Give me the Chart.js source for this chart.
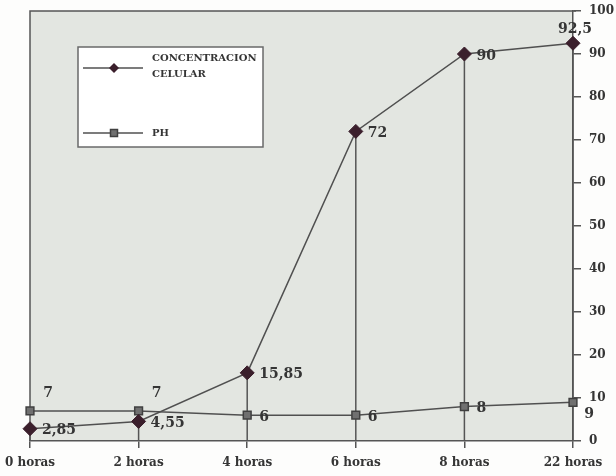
<!DOCTYPE html>
<html>
<head>
<meta charset="utf-8">
<script src="https://cdn.jsdelivr.net/npm/chart.js@4/dist/chart.umd.min.js"></script>
<style>
  html, body { margin: 0; padding: 0; background: #fdfdfc; }
  canvas { display: block; }
</style>
</head>
<body>
<canvas id="c" width="616" height="476"></canvas>
<script>
// Horas de cultivo
const categories = ['0 horas', '2 horas', '4 horas', '6 horas', '8 horas', '22 horas'];
// Concentración celular
const concentracion = [2.85, 4.55, 15.85, 72, 90, 92.5];
// pH del medio
const ph = [7, 7, 6, 6, 8, 9];
// Marcas del eje derecho
const yTickValues = [0, 10, 20, 30, 40, 50, 60, 70, 80, 90, 100];

// Where each value label sits relative to its point
const concLabelPlace = ['right', 'right', 'right', 'right', 'right', 'above'];
const phLabelPlace = ['upRight', 'upRight', 'right', 'right', 'right', 'downRight'];

const INK = '#353535';
const AXIS = '#555555';
const SERIF = "'DejaVu Serif', 'Liberation Serif', serif";

const fmt = v => String(v).replace('.', ',');

// Shaded plot area with its top and left border
const plotFrame = {
  id: 'plotFrame',
  beforeDraw(chart) {
    const { ctx, chartArea: a } = chart;
    ctx.save();
    ctx.fillStyle = '#e3e6e1';
    ctx.fillRect(a.left, a.top, a.right - a.left, a.bottom - a.top);
    ctx.strokeStyle = AXIS;
    ctx.lineWidth = 1.5;
    ctx.beginPath();
    ctx.moveTo(a.left, a.bottom);
    ctx.lineTo(a.left, a.top);
    ctx.lineTo(a.right + 3, a.top);
    ctx.stroke();
    ctx.restore();
  }
};

// Vertical drop lines from each concentration point to the axis
const dropLines = {
  id: 'dropLines',
  beforeDatasetsDraw(chart) {
    const { ctx, chartArea: a } = chart;
    const meta = chart.getDatasetMeta(0);
    ctx.save();
    ctx.strokeStyle = AXIS;
    ctx.lineWidth = 1.5;
    meta.data.forEach(pt => {
      ctx.beginPath();
      ctx.moveTo(pt.x, pt.y);
      ctx.lineTo(pt.x, a.bottom);
      ctx.stroke();
    });
    ctx.restore();
  }
};

// Value labels next to the points
const valueLabels = {
  id: 'valueLabels',
  afterDatasetsDraw(chart) {
    const { ctx } = chart;
    const places = [concLabelPlace, phLabelPlace];
    ctx.save();
    ctx.fillStyle = INK;
    ctx.font = 'bold 14px ' + SERIF;
    ctx.textBaseline = 'middle';
    chart.data.datasets.forEach((ds, di) => {
      const meta = chart.getDatasetMeta(di);
      meta.data.forEach((pt, i) => {
        const txt = fmt(ds.data[i]);
        const place = places[di][i];
        let x = pt.x, y = pt.y;
        if (place === 'right') { ctx.textAlign = 'left'; x += 12; y += 2; }
        else if (place === 'above') { ctx.textAlign = 'center'; x += 2; y -= 14; }
        else if (place === 'upRight') { ctx.textAlign = 'center'; x += 18; y -= 18; }
        else if (place === 'downRight') { ctx.textAlign = 'center'; x += 16; y += 12; }
        ctx.fillText(txt, x, y);
      });
    });
    ctx.restore();
  }
};

function drawDiamond(ctx, x, y, r, fill) {
  ctx.beginPath();
  ctx.moveTo(x, y - r);
  ctx.lineTo(x + r, y);
  ctx.lineTo(x, y + r);
  ctx.lineTo(x - r, y);
  ctx.closePath();
  ctx.fillStyle = fill;
  ctx.fill();
}

function drawSquare(ctx, x, y, s, fill, stroke) {
  ctx.fillStyle = fill;
  ctx.strokeStyle = stroke;
  ctx.lineWidth = 1.5;
  ctx.fillRect(x - s / 2, y - s / 2, s, s);
  ctx.strokeRect(x - s / 2, y - s / 2, s, s);
}

// Boxed legend inside the plot area
const boxLegend = {
  id: 'boxLegend',
  afterDraw(chart) {
    const { ctx } = chart;
    const ds = chart.data.datasets;
    const bx = 78, by = 47, bw = 185, bh = 100;
    ctx.save();
    ctx.fillStyle = '#ffffff';
    ctx.fillRect(bx, by, bw, bh);
    ctx.strokeStyle = '#6a6a6a';
    ctx.lineWidth = 1.5;
    ctx.strokeRect(bx, by, bw, bh);

    const rows = [
      { y: 68, lines: ds[0].label.split(' '), marker: 'diamond', set: ds[0] },
      { y: 133, lines: [ds[1].label], marker: 'square', set: ds[1] }
    ];
    rows.forEach(row => {
      ctx.strokeStyle = row.set.borderColor;
      ctx.lineWidth = 1.5;
      ctx.beginPath();
      ctx.moveTo(83, row.y);
      ctx.lineTo(143, row.y);
      ctx.stroke();
      if (row.marker === 'diamond') drawDiamond(ctx, 114, row.y, 5, row.set.pointBackgroundColor);
      else drawSquare(ctx, 114, row.y, 7, row.set.pointBackgroundColor, row.set.pointBorderColor);
      ctx.fillStyle = INK;
      ctx.font = 'bold 10px ' + SERIF;
      ctx.textAlign = 'left';
      ctx.textBaseline = 'middle';
      const start = row.lines.length > 1 ? row.y - 10 : row.y;
      row.lines.forEach((t, k) => ctx.fillText(t, 152, start + k * 16));
    });
    ctx.restore();
  }
};

new Chart(document.getElementById('c'), {
  type: 'line',
  data: {
    labels: categories,
    datasets: [
      {
        label: 'CONCENTRACION CELULAR',
        data: concentracion,
        borderColor: '#505050',
        borderWidth: 1.5,
        pointStyle: 'rectRot',
        pointRadius: 7,
        pointBackgroundColor: '#3b1f2c',
        pointBorderColor: '#3b1f2c',
        pointBorderWidth: 1,
        tension: 0
      },
      {
        label: 'PH',
        data: ph,
        borderColor: '#505050',
        borderWidth: 1.5,
        pointStyle: 'rect',
        pointRadius: 5.5,
        pointBackgroundColor: '#707070',
        pointBorderColor: '#404040',
        pointBorderWidth: 1.5,
        tension: 0
      }
    ]
  },
  options: {
    responsive: false,
    animation: false,
    devicePixelRatio: 1,
    layout: { padding: { left: 30, top: 11, right: 0, bottom: 0 } },
    plugins: {
      legend: { display: false },
      tooltip: { enabled: false }
    },
    scales: {
      x: {
        offset: false,
        grid: { display: true, drawOnChartArea: false, drawTicks: true, tickLength: 7, color: AXIS, lineWidth: 1.5 },
        border: { display: true, color: AXIS, width: 1.5 },
        ticks: {
          color: INK,
          font: { family: SERIF, weight: 'bold', size: 12 },
          padding: 8,
          maxRotation: 0,
          autoSkip: false
        },
        afterFit(s) { s.height = 35; s.paddingLeft = 0; s.paddingRight = 0; }
      },
      y: {
        position: 'right',
        min: 0,
        max: 100,
        afterBuildTicks(s) { s.ticks = yTickValues.map(v => ({ value: v })); },
        grid: { display: true, drawOnChartArea: false, drawTicks: true, tickLength: 8, color: AXIS, lineWidth: 1.5 },
        border: { display: true, color: AXIS, width: 1.5 },
        ticks: {
          color: INK,
          font: { family: SERIF, weight: 'bold', size: 12 },
          padding: 8
        },
        afterFit(s) { s.width = 43; s.paddingTop = 0; s.paddingBottom = 0; }
      }
    }
  },
  plugins: [plotFrame, dropLines, valueLabels, boxLegend]
});
</script>
</body>
</html>
